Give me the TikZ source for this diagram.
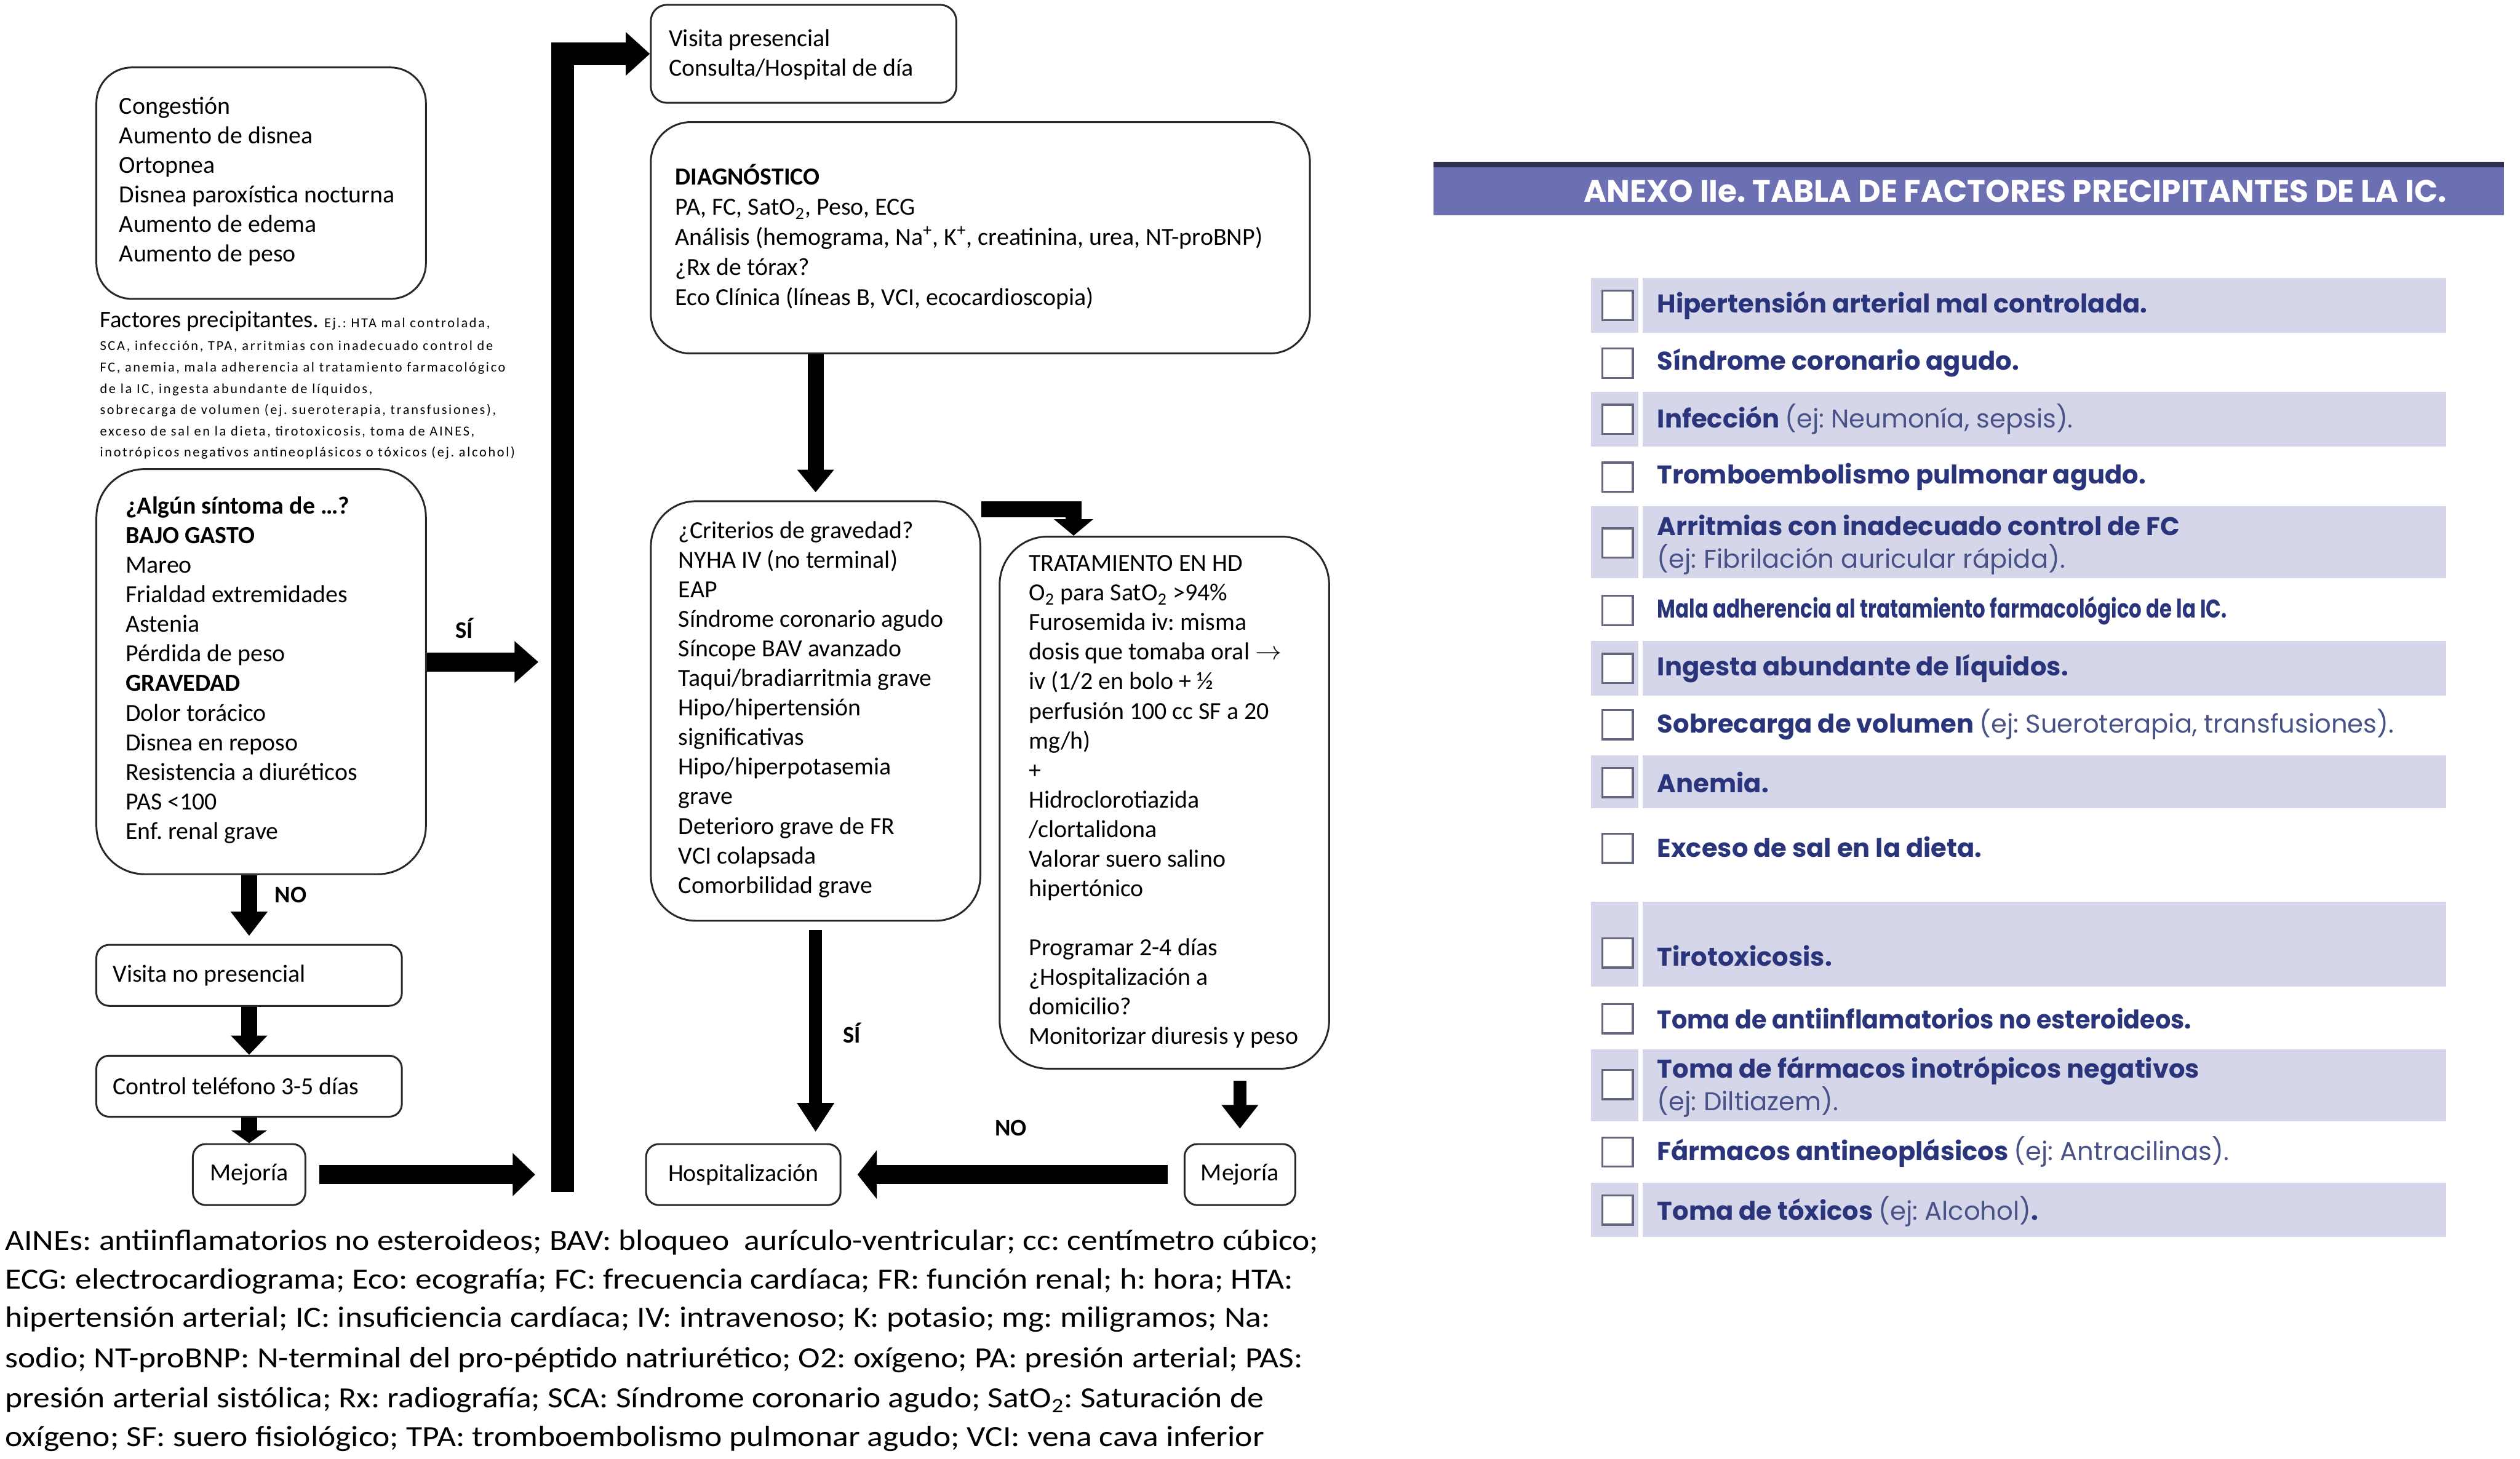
\documentclass[tikz,border=0pt]{standalone}
\usepackage{fontspec}
\setmainfont{Carlito}
\newfontfamily\tabfont{Poppins}
\newfontfamily\tabnarrow[FakeStretch=0.78]{Poppins}
\newfontfamily\tabsemi[FakeStretch=0.955]{Poppins}
\newfontfamily\spfont[LetterSpace=12]{Carlito}
\newfontfamily\footfont[FakeStretch=1.125]{Carlito}
\usetikzlibrary{arrows.meta,calc}
\definecolor{hdr}{RGB}{108,112,178}
\definecolor{hdrtop}{RGB}{45,48,80}
\definecolor{rowsh}{RGB}{213,214,233}
\definecolor{navy}{RGB}{42,52,122}
\definecolor{navyl}{RGB}{72,82,135}
\definecolor{chk}{RGB}{100,102,125}
\definecolor{boxline}{RGB}{40,40,40}
\newcommand{\ejtxt}[1]{{\mdseries\color{navyl}#1}}
\frenchspacing
\begin{document}
\begin{tikzpicture}[x=0.030823cm,y=-0.030823cm,
  bx/.style={draw=boxline,line width=1pt,fill=white,inner sep=0pt},
  txt/.style={inner sep=0pt,align=left,anchor=west,font=\fontsize{13.4}{16.14}\selectfont},
  lbl/.style={inner sep=0pt,font=\bfseries\fontsize{13}{15}\selectfont},
  onel/.style={font=\fontsize{13.4}{15}\selectfont},
  chkbox/.style={draw=chk,line width=1.1pt,fill=white,minimum width=16.7pt,minimum height=16pt,inner sep=0pt},
  tb/.style={anchor=west,inner sep=0pt,align=left,text=navy,font=\tabfont\bfseries\fontsize{14}{18}\selectfont},
  foot/.style={anchor=base west,inner sep=0pt,font=\footfont\fontsize{16}{20}\selectfont}
]
\fill[white] (0,0) rectangle (1568,908);
\useasboundingbox (0,0) rectangle (1568,908);

% ---------- left column ----------
\node[bx,minimum width=179.8pt,minimum height=126.3pt,rounded corners=19.3pt] (cong) at (162.5,114) {};
\node[txt] (cong-t) at (74,113) {Congestión\\Aumento de disnea\\Ortopnea\\Disnea paroxística nocturna\\Aumento de edema\\Aumento de peso};

\node[inner sep=0pt,anchor=base west] (fp1) at (62,204) {\fontsize{13}{14}\selectfont Factores precipitantes. {\spfont\fontsize{7.5}{8}\selectfont Ej.: HTA mal controlada,}};
\node[inner sep=0pt,anchor=west,align=left,font=\spfont\fontsize{7.5}{11.6}\selectfont] (fp2) at (62,249) {SCA, infección, TPA, arritmias con inadecuado control de\\FC, anemia, mala adherencia al tratamiento farmacológico\\de la IC, ingesta abundante de líquidos,\\sobrecarga de volumen (ej. sueroterapia, transfusiones),\\exceso de sal en la dieta, tirotoxicosis, toma de AINES,\\inotrópicos negativos antineoplásicos o tóxicos (ej. alcohol)};

\node[bx,minimum width=179.8pt,minimum height=221.1pt,rounded corners=26.3pt] (sint) at (162.5,418) {};
\node[txt] (sint-t) at (78,417) {\textbf{¿Algún síntoma de …?}\\\textbf{BAJO GASTO}\\Mareo\\Frialdad extremidades\\Astenia\\Pérdida de peso\\\textbf{GRAVEDAD}\\Dolor torácico\\Disnea en reposo\\Resistencia a diuréticos\\PAS <100\\Enf. renal grave};

\node[bx,minimum width=166.7pt,minimum height=33.3pt,rounded corners=7pt] (vnp) at (155,607) {};
\node[txt,onel] (vnp-t) at (70,607) {Visita no presencial};
\node[bx,minimum width=166.7pt,minimum height=33.3pt,rounded corners=7pt] (ctel) at (155,676) {};
\node[txt,onel] (ctel-t) at (70,676) {Control teléfono 3-5 días};
\node[bx,onel,minimum width=61.4pt,minimum height=33.3pt,rounded corners=7pt] (mej1) at (155,731) {Mejoría};

% ---------- middle column ----------
\node[bx,minimum width=166.7pt,minimum height=53.5pt,rounded corners=8.8pt] (vp) at (500,33.5) {};
\node[txt,font=\fontsize{13.4}{15.8}\selectfont] (vp-t) at (416,34) {Visita presencial\\Consulta/Hospital de día};

\node[bx,minimum width=359.7pt,minimum height=126.3pt,rounded corners=21.9pt] (diag) at (610,148) {};
\node[txt,font=\fontsize{13.4}{16.45}\selectfont] (diag-t) at (420,147.5) {\textbf{DIAGNÓSTICO}\\PA, FC, SatO\textsubscript{2}, Peso, ECG\\Análisis (hemograma, Na\textsuperscript{+}, K\textsuperscript{+}, creatinina, urea, NT-proBNP)\\¿Rx de tórax?\\Eco Clínica (líneas B, VCI, ecocardioscopia)};

\node[bx,minimum width=179.8pt,minimum height=229pt,rounded corners=24.6pt] (crit) at (507.5,442.5) {};
\node[txt] (crit-t) at (422,441.5) {¿Criterios de gravedad?\\NYHA IV (no terminal)\\EAP\\Síndrome coronario agudo\\Síncope BAV avanzado\\Taqui/bradiarritmia grave\\Hipo/hipertensión\\significativas\\Hipo/hiperpotasemia\\grave\\Deterioro grave de FR\\VCI colapsada\\Comorbilidad grave};

\node[bx,minimum width=179.8pt,minimum height=290.4pt,rounded corners=26.3pt] (trat) at (724.5,499.5) {};
\node[txt] (trat-t) at (640,499) {TRATAMIENTO EN HD\\O\textsubscript{2} para SatO\textsubscript{2} >94\%\\Furosemida iv: misma\\dosis que tomaba oral $\rightarrow$\\iv (1/2 en bolo + ½\\perfusión 100 cc SF a 20\\mg/h)\\+\\Hidroclorotiazida\\/clortalidona\\Valorar suero salino\\hipertónico\\[16.14pt]Programar 2-4 días\\¿Hospitalización a\\domicilio?\\Monitorizar diuresis y peso};

\node[bx,onel,minimum width=106.1pt,minimum height=33.3pt,rounded corners=7pt] (hosp) at (462.5,731) {Hospitalización};
\node[bx,onel,minimum width=60.5pt,minimum height=33.3pt,rounded corners=7pt] (mej2) at (771.5,731) {Mejoría};

\node[lbl] (si1) at (289,391) {SÍ};
\node[lbl] (no1) at (181,557) {NO};
\node[lbl] (si2) at (530,643) {SÍ};
\node[lbl] (no2) at (629,702) {NO};

% ---------- arrows ----------
\coordinate (siend) at (335,412);
\coordinate (mejend) at (333,731);
\coordinate (barbot) at (350,742);
\coordinate (bartop) at (350,33.5);
\draw[line width=10.5pt,-{Triangle[length=13pt,width=22pt]}] ($(sint.east)+(0,-6)$) -- (siend);
\draw[line width=10.5pt,-{Triangle[length=12.3pt,width=22.8pt]}] ($(mej1.east)+(8,0)$) -- (mejend);
\draw[line width=12.3pt,-{Triangle[length=13.2pt,width=23pt]}] (barbot) -- (bartop) -- (vp.west);
\draw[line width=8.8pt,-{Triangle[length=13.2pt,width=19.3pt]}] (sint.south -| vnp.north) -- ($(vnp.north)+(0,-5)$);
\draw[line width=8.8pt,-{Triangle[length=10.5pt,width=19.3pt]}] (vnp.south) -- (ctel.north);
\draw[line width=8.8pt,-{Triangle[length=7pt,width=19.3pt]}] (ctel.south) -- (mej1.north);
\draw[line width=8.8pt,-{Triangle[length=12.3pt,width=19.3pt]}] (diag.south -| crit.north) -- ($(crit.north)+(0,-5)$);
\draw[line width=8.8pt,-{Triangle[length=9pt,width=21pt]}] (crit.east |- 0,317) -| (trat.north -| 668,0);
\draw[line width=7pt,-{Triangle[length=15.8pt,width=19.3pt]}] ($(crit.south)+(0,5)$) -- ($(crit.south |- hosp.north)+(0,-7)$);
\draw[line width=7pt,-{Triangle[length=13pt,width=19.3pt]}] ($(trat.south -| mej2.north)+(0,7)$) -- ($(mej2.north)+(0,-9)$);
\draw[line width=10.5pt,-{Triangle[length=10.5pt,width=26pt]}] ($(mej2.west)+(-10,0)$) -- ($(hosp.east)+(10,0)$);

% ---------- footer ----------
\node[foot] (f1) at (3,778) {AINEs: antiinflamatorios no esteroideos; BAV: bloqueo\ \ aurículo-ventricular; cc: centímetro cúbico;};
\node[foot] (f2) at (3,802) {ECG: electrocardiograma; Eco: ecografía; FC: frecuencia cardíaca; FR: función renal; h: hora; HTA:};
\node[foot] (f3) at (3,826) {hipertensión arterial; IC: insuficiencia cardíaca; IV: intravenoso; K: potasio; mg: miligramos; Na:};
\node[foot] (f4) at (3,851) {sodio; NT-proBNP: N-terminal del pro-péptido natriurético; O2: oxígeno; PA: presión arterial; PAS:};
\node[foot] (f5) at (3,876) {presión arterial sistólica; Rx: radiografía; SCA: Síndrome coronario agudo; SatO\textsubscript{2}: Saturación de};
\node[foot] (f6) at (3,900) {oxígeno; SF: suero fisiológico; TPA: tromboembolismo pulmonar agudo; VCI: vena cava inferior};

% ---------- right table ----------
\fill[hdr] (892,101) rectangle (1558,134);
\fill[hdrtop] (892,100.5) rectangle (1558,104);
\node[font=\tabfont\bfseries\fontsize{16.9}{19}\selectfont,text=white,inner sep=0pt] (anexo) at (1254,119) {ANEXO IIe. TABLA DE FACTORES PRECIPITANTES DE LA IC.};

\foreach \a/\b in {173/207,244/278,315/360,399/433,470/503,561/614,653/698,736/770}{
  \fill[rowsh] (990,\a) rectangle (1019.5,\b);
  \fill[rowsh] (1022,\a) rectangle (1522,\b);
}
\foreach \n/\c in {1/190,2/226,3/261,4/297,5/338,6/380,7/416,8/451,9/487,10/528,11/593,12/634,13/675,14/717,15/753}{
  \node[chkbox] (chk\n) at (1006.5,\c) {};
}
\node[tb] (r1) at (1031,190) {Hipertensión arterial mal controlada.};
\node[tb] (r2) at (1031,226) {Síndrome coronario agudo.};
\node[tb] (r3) at (1031,261) {Infección \ejtxt{(ej: Neumonía, sepsis).}};
\node[tb] (r4) at (1031,297) {Tromboembolismo pulmonar agudo.};
\node[tb] (r5) at (1031,339) {Arritmias con inadecuado control de FC\\\ejtxt{(ej: Fibrilación auricular rápida).}};
\node[tb,font=\tabnarrow\bfseries\fontsize{14}{18}\selectfont] (r6) at (1031,380) {Mala adherencia al tratamiento farmacológico de la IC.};
\node[tb] (r7) at (1031,416) {Ingesta abundante de líquidos.};
\node[tb] (r8) at (1031,451) {Sobrecarga de volumen \ejtxt{(ej: Sueroterapia, transfusiones).}};
\node[tb] (r9) at (1031,487) {Anemia.};
\node[tb] (r10) at (1031,527) {Exceso de sal en la dieta.};
\node[tb] (r11) at (1031,595) {Tirotoxicosis.};
\node[tb,font=\tabsemi\bfseries\fontsize{14}{18}\selectfont] (r12) at (1031,634) {Toma de antiinflamatorios no esteroideos.};
\node[tb] (r13) at (1031,676.5) {Toma de fármacos inotrópicos negativos\\\ejtxt{(ej: Diltiazem).}};
\node[tb] (r14) at (1031,717) {Fármacos antineoplásicos \ejtxt{(ej: Antracilinas).}};
\node[tb] (r15) at (1031,754) {Toma de tóxicos \ejtxt{(ej: Alcohol)}.};
\end{tikzpicture}
\end{document}
